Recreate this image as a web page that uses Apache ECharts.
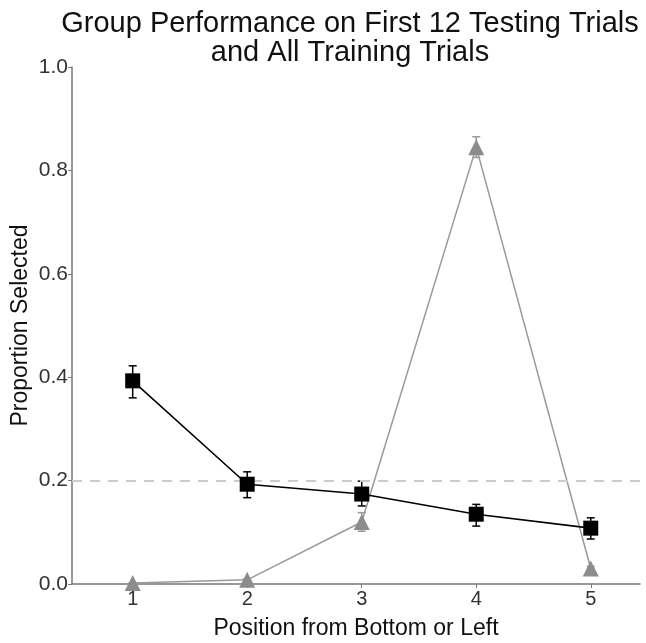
<!DOCTYPE html>
<html>
<head>
<meta charset="utf-8">
<script src="https://cdn.jsdelivr.net/npm/echarts@6/dist/echarts.min.js"></script>
<style>html,body{margin:0;padding:0;background:#fff;}#chart{width:646px;height:643px;}</style>
</head>
<body>
<div id="chart"></div>
<script>
const positions = [1, 2, 3, 4, 5];
const testingMean = [0.393, 0.193, 0.174, 0.135, 0.108];
const testingLow = [0.360, 0.167, 0.151, 0.112, 0.087];
const testingHigh = [0.422, 0.217, 0.199, 0.154, 0.128];
const trainingMean = [0.002, 0.008, 0.120, 0.845, 0.030];
const trainingLow = [0.002, 0.006, 0.102, 0.825, 0.026];
const trainingHigh = [0.002, 0.010, 0.138, 0.865, 0.034];
const chanceLevel = 0.2;

const font = '"Liberation Sans", Arial, sans-serif';

function errData(low, high) {
  return positions.map((p, i) => [p, low[i], high[i]]);
}
function errRender(color) {
  return function (params, api) {
    const x = api.value(0);
    const lo = api.coord([x, api.value(1)]);
    const hi = api.coord([x, api.value(2)]);
    const cap = 4;
    const style = { stroke: color, lineWidth: 1.5 };
    return {
      type: 'group',
      children: [
        { type: 'line', shape: { x1: lo[0], y1: lo[1], x2: hi[0], y2: hi[1] }, style },
        { type: 'line', shape: { x1: lo[0] - cap, y1: lo[1], x2: lo[0] + cap, y2: lo[1] }, style },
        { type: 'line', shape: { x1: hi[0] - cap, y1: hi[1], x2: hi[0] + cap, y2: hi[1] }, style }
      ]
    };
  };
}

const chart = echarts.init(document.getElementById('chart'), null, { renderer: 'canvas' });
chart.setOption({
  animation: false,
  backgroundColor: '#fff',
  title: {
    text: 'Group Performance on First 12 Testing Trials\nand All Training Trials',
    left: 345,
    textAlign: 'center',
    top: 4,
    textStyle: { fontFamily: font, fontSize: 29, fontWeight: 'normal', color: '#111', lineHeight: 29 }
  },
  grid: { left: 72, right: 6, top: 67, bottom: 59, containLabel: false, outerBoundsMode: 'none' },
  xAxis: {
    type: 'value',
    min: 0.47,
    max: 5.43,
    name: 'Position from Bottom or Left',
    nameLocation: 'middle',
    nameGap: 33,
    nameTextStyle: { fontFamily: font, fontSize: 23, color: '#111' },
    axisLine: { show: true, lineStyle: { color: '#777', width: 1.5 } },
    axisTick: { show: true, customValues: positions, length: 4, lineStyle: { color: '#777' } },
    axisLabel: { customValues: positions, fontFamily: font, fontSize: 20, color: '#333', margin: 5 },
    splitLine: { show: false }
  },
  yAxis: {
    type: 'value',
    min: 0,
    max: 1,
    interval: 0.2,
    name: 'Proportion Selected',
    nameLocation: 'middle',
    nameGap: 40,
    nameMoveOverlap: false,
    nameTextStyle: { fontFamily: font, fontSize: 23, color: '#111' },
    axisLine: { show: true, lineStyle: { color: '#777', width: 1.5 } },
    axisTick: { show: true, length: 4, lineStyle: { color: '#777' } },
    axisLabel: { fontFamily: font, fontSize: 21, color: '#333', margin: 4, formatter: v => v.toFixed(1) },
    splitLine: { show: false }
  },
  series: [
    {
      type: 'line',
      data: positions.map((p, i) => [p, trainingMean[i]]),
      symbol: 'triangle',
      symbolSize: 16,
      itemStyle: { color: '#8c8c8c' },
      lineStyle: { color: '#999', width: 1.5 },
      z: 3,
      markLine: {
        silent: true,
        symbol: 'none',
        label: { show: false },
        lineStyle: { color: '#cccccc', type: [10, 8], width: 2 },
        data: [{ yAxis: chanceLevel }]
      }
    },
    {
      type: 'custom',
      data: errData(trainingLow, trainingHigh),
      renderItem: errRender('#999'),
      z: 2
    },
    {
      type: 'line',
      data: positions.map((p, i) => [p, testingMean[i]]),
      symbol: 'rect',
      symbolSize: 15,
      itemStyle: { color: '#000' },
      lineStyle: { color: '#000', width: 1.6 },
      z: 5
    },
    {
      type: 'custom',
      data: errData(testingLow, testingHigh),
      renderItem: errRender('#000'),
      z: 4
    }
  ]
});
</script>
</body>
</html>
